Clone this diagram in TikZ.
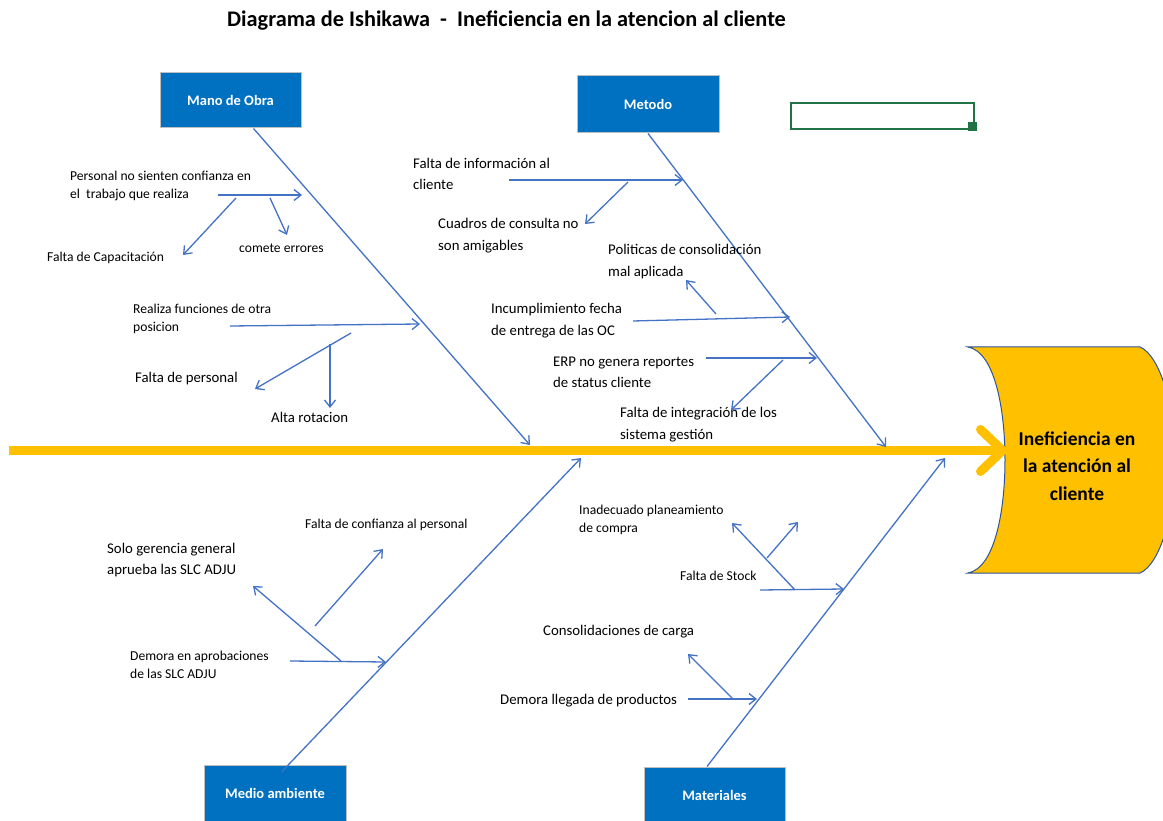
\documentclass[tikz,border=0pt]{standalone}
\usepackage{fontspec}
\setmainfont{Carlito}
\usetikzlibrary{arrows.meta}

\definecolor{catblue}{HTML}{0070C0}
\definecolor{catedge}{HTML}{BFBFBF}
\definecolor{bonecol}{HTML}{4472C4}
\definecolor{spinecol}{HTML}{FFC000}
\definecolor{headedge}{HTML}{2F5597}
\definecolor{selgreen}{HTML}{217346}

\tikzset{
  bone/.style={draw=bonecol, line width=1.3pt, -{Straight Barb[length=7pt,width=11pt]}},
  twig/.style={draw=bonecol, line width=1.3pt, -{Straight Barb[length=7pt,width=11pt]}},
  spine/.style={draw=spinecol, line width=9pt, -{Straight Barb[length=22pt,width=42pt,round]}},
  cat/.style={fill=catblue, draw=catedge, line width=1pt, text=white,
    font=\bfseries\fontsize{14.5}{17}\selectfont,
    minimum width=141pt, minimum height=56pt, inner sep=0pt},
  lblS/.style={font=\fontsize{13.6}{18}\selectfont, align=left, inner sep=0pt, anchor=west},
  lblL/.style={font=\fontsize{14.8}{21.5}\selectfont, align=left, inner sep=0pt, anchor=west},
  headtxt/.style={font=\bfseries\fontsize{19.5}{27.5}\selectfont, align=center, inner sep=0pt},
  titletxt/.style={font=\bfseries\fontsize{22.3}{26}\selectfont, inner sep=0pt},
  selbox/.style={draw=selgreen, line width=2pt, minimum width=183pt, minimum height=26pt, inner sep=0pt},
  selhandle/.style={fill=selgreen, minimum size=9pt, inner sep=0pt}
}

\begin{document}
\begin{tikzpicture}[x=1pt, y=-1pt]
\useasboundingbox (0,0) rectangle (1163,821);
\clip (0,0) rectangle (1163,821);
\fill[white] (0,0) rectangle (1163,821);

% title
\node[titletxt] (title) at (506.5,21) {Diagrama de Ishikawa\ \ -\ \ Ineficiencia en la atencion al cliente};

% spreadsheet cell selection
\node[selbox] (cell) at (882.5,116) {};
\node[selhandle] (handle) at (972,127) {};

% effect (head)
\path[fill=spinecol, draw=headedge, line width=1pt]
  (968,347) -- (1140,347)
  .. controls (1160,355) and (1176,410) .. (1176,460)
  .. controls (1176,510) and (1160,565) .. (1140,573)
  -- (968,573)
  .. controls (995,568) and (1005,510) .. (1005,460)
  .. controls (1005,410) and (995,352) .. (968,347) -- cycle;
\node[headtxt] (effect) at (1077,466) {Ineficiencia en\\la atención al\\cliente};

% spine
\coordinate (tail) at (9,450.5);
\coordinate (tip) at (1007,450.5);
\draw[spine] (tail) -- (tip);

% category boxes
\node[cat, minimum width=141pt, minimum height=55pt] (mano) at (230.5,100.5) {Mano de Obra};
\node[cat, minimum width=142pt, minimum height=57pt] (metodo) at (648,104.5) {Metodo};
\node[cat, minimum width=142pt, minimum height=57pt] (medio) at (275,793.5) {Medio ambiente};
\node[cat, minimum width=141pt, minimum height=57pt] (mat) at (714.5,795.5) {Materiales};

% main bones
\coordinate (jMano) at (530,445);
\coordinate (jMetodo) at (886,447);
\coordinate (jMedio) at (581,458);
\coordinate (jMat) at (945,458);
\draw[bone] ([xshift=23pt]mano.south) -- (jMano);
\draw[bone] (metodo.south) -- (jMetodo);
\draw[bone] ([xshift=7pt,yshift=-7pt]medio.north) -- (jMedio);
\draw[bone] ([xshift=-7.5pt]mat.north) -- (jMat);

% ---------- Mano de Obra ----------
\node[lblS] (c1) at (70,186) {Personal no sienten confianza en\\el\ \ trabajo que realiza};
\coordinate (c1s) at (218,195);
\coordinate (c1e) at (302,195);
\draw[bone] (c1s) -- (c1e);
\node[lblS] (c1a) at (47,258) {Falta de Capacitación};
\coordinate (c1aS) at (236,198);
\coordinate (c1aE) at (183,255);
\draw[twig] (c1aS) -- (c1aE);
\node[lblS] (c1b) at (239,248) {comete errores};
\coordinate (c1bS) at (270,198);
\coordinate (c1bE) at (287,235);
\draw[twig] (c1bS) -- (c1bE);

\node[lblS] (c2) at (133,319) {Realiza funciones de otra\\posicion};
\coordinate (c2s) at (230,326);
\coordinate (c2e) at (420,324);
\draw[bone] (c2s) -- (c2e);
\node[lblL] (c2a) at (135,379) {Falta de personal};
\coordinate (c2aS) at (351,333);
\coordinate (c2aE) at (255,389);
\draw[twig] (c2aS) -- (c2aE);
\node[lblL] (c2b) at (271,417) {Alta rotacion};
\coordinate (c2bS) at (330,344);
\coordinate (c2bE) at (330,408);
\draw[twig] (c2bS) -- (c2bE);

% ---------- Metodo ----------
\node[lblL] (m1) at (413,174) {Falta de información al\\cliente};
\coordinate (m1s) at (509,180);
\coordinate (m1e) at (683,180);
\draw[bone] (m1s) -- (m1e);
\node[lblL] (m1a) at (438,235.5) {Cuadros de consulta no\\son amigables};
\coordinate (m1aS) at (628,182);
\coordinate (m1aE) at (585,224);
\draw[twig] (m1aS) -- (m1aE);

\node[lblL] (m2) at (491,320.5) {Incumplimiento fecha\\de entrega de las OC};
\coordinate (m2s) at (633,321);
\coordinate (m2e) at (790,317);
\draw[bone] (m2s) -- (m2e);
\node[lblL] (m2a) at (608,261.5) {Politicas de consolidación\\mal aplicada};
\coordinate (m2aS) at (716,314);
\coordinate (m2aE) at (686,280);
\draw[twig] (m2aS) -- (m2aE);

\node[lblL] (m3) at (553,372.5) {ERP no genera reportes\\de status cliente};
\coordinate (m3s) at (706,358);
\coordinate (m3e) at (817,358);
\draw[bone] (m3s) -- (m3e);
\node[lblL] (m3a) at (620,424.5) {Falta de integración de los\\sistema gestión};
\coordinate (m3aS) at (783,360);
\coordinate (m3aE) at (731,410);
\draw[twig] (m3aS) -- (m3aE);

% ---------- Medio ambiente ----------
\node[lblS] (e1) at (130,665) {Demora en aprobaciones\\de las SLC ADJU};
\coordinate (e1s) at (290,661);
\coordinate (e1e) at (386,662);
\draw[bone] (e1s) -- (e1e);
\node[lblL] (e1a) at (107,560) {Solo gerencia general\\aprueba las SLC ADJU};
\coordinate (e1aS) at (341,661);
\coordinate (e1aE) at (253,586);
\draw[twig] (e1aS) -- (e1aE);
\node[lblS] (e2) at (305,525) {Falta de confianza al personal};
\coordinate (e2s) at (315,626);
\coordinate (e2e) at (383,549);
\draw[twig] (e2s) -- (e2e);

% ---------- Materiales ----------
\node[lblS] (t1) at (680,576) {Falta de Stock};
\coordinate (t1s) at (760,590);
\coordinate (t1e) at (844,589);
\draw[bone] (t1s) -- (t1e);
\node[lblS] (t1a) at (579,520) {Inadecuado planeamiento\\de compra};
\coordinate (t1aS) at (795,590);
\coordinate (t1aE) at (732,523);
\draw[twig] (t1aS) -- (t1aE);
\coordinate (t1bS) at (767,558);
\coordinate (t1bE) at (798,522);
\draw[twig] (t1bS) -- (t1bE);

\node[lblL] (t2) at (500,701) {Demora llegada de productos};
\coordinate (t2s) at (688,699);
\coordinate (t2e) at (757,699);
\draw[bone] (t2s) -- (t2e);
\node[lblL] (t2a) at (543,632) {Consolidaciones de carga};
\coordinate (t2aS) at (733,699);
\coordinate (t2aE) at (688,654);
\draw[twig] (t2aS) -- (t2aE);

\end{tikzpicture}
\end{document}
